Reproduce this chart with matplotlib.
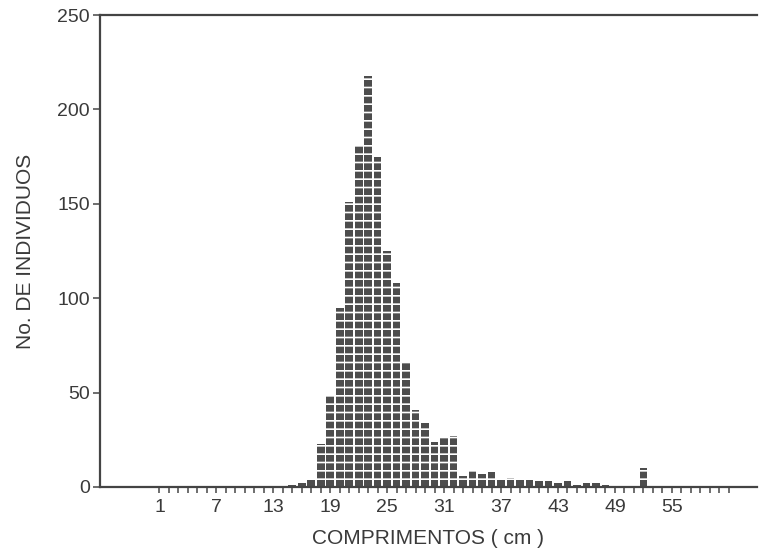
import matplotlib
matplotlib.use("Agg")
import matplotlib.pyplot as plt

# Length classes (cm) and number of individuals
lengths = [15, 16, 17, 18, 19, 20, 21, 22, 23, 24, 25, 26, 27, 28, 29, 30, 31, 32,
           33, 34, 35, 36, 37, 38, 39, 40, 41, 42, 43, 44, 45, 46, 47, 48, 52]
counts = [1, 2, 4, 23, 48, 95, 151, 181, 218, 175, 125, 108, 66, 41, 34, 24, 26, 27,
          6, 9, 7, 8, 4, 5, 4, 4, 3, 3, 2, 3, 1, 2, 2, 1, 10]

xtick_labels = [1, 7, 13, 19, 25, 31, 37, 43, 49, 55]
yticks = [0, 50, 100, 150, 200, 250]

plt.rcParams['font.family'] = ['Liberation Sans', 'DejaVu Sans']
plt.rcParams['hatch.linewidth'] = 1.2

fig = plt.figure(figsize=(7.61, 5.60), dpi=100)
ax = fig.add_axes([0.131, 0.1304, 0.864, 0.8426])

ax.bar(lengths, counts, width=0.8, color='#4d4d4d', edgecolor='white',
       hatch='--', linewidth=0, zorder=2)

ax.set_xlim(-5.3, 64)
ax.set_ylim(0, 250)
ax.set_xticks(xtick_labels)
ax.set_xticklabels([str(v) for v in xtick_labels])
ax.set_xticks(list(range(1, 62)), minor=True)
ax.set_yticks(yticks)

txt = '#3a3a3a'
for s in ['left', 'bottom', 'top']:
    ax.spines[s].set_color('#444444')
    ax.spines[s].set_linewidth(1.6)
ax.spines['right'].set_visible(False)

ax.tick_params(axis='x', which='both', direction='out', length=4, width=1.2,
               colors='#555555', labelcolor=txt, labelsize=14, pad=5)
ax.tick_params(axis='y', which='major', direction='out', length=5, width=1.2,
               colors='#555555', labelcolor=txt, labelsize=14, pad=2)

ax.set_xlabel('COMPRIMENTOS ( cm )', fontsize=15, color=txt, labelpad=9)
ax.set_ylabel('No. DE INDIVIDUOS', fontsize=15, color=txt, labelpad=16)

fig.savefig('out.png', dpi=100)
